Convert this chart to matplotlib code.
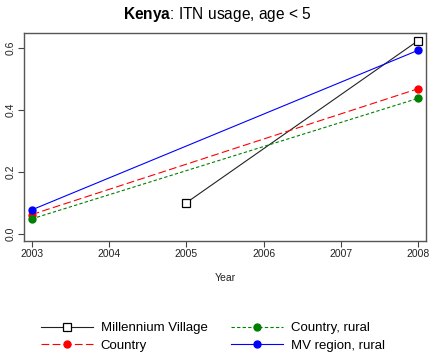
import matplotlib.pyplot as plt
import numpy as np

plt.rcParams['font.family'] = ['Liberation Sans', 'DejaVu Sans']
plt.rcParams['mathtext.fontset'] = 'custom'
plt.rcParams['mathtext.bf'] = 'Liberation Sans:bold'
plt.rcParams['mathtext.rm'] = 'Liberation Sans'

# data
mv_years = [2005, 2008]
mv_vals = [0.10, 0.623]
country_years = [2003, 2008]
country_vals = [0.062, 0.468]
rural_years = [2003, 2008]
rural_vals = [0.048, 0.437]
mvregion_years = [2003, 2008]
mvregion_vals = [0.077, 0.592]

xticks = [2003, 2004, 2005, 2006, 2007, 2008]
yticks = [0.0, 0.2, 0.4, 0.6]
ytick_labels = ['0.0', '0.2', '0.4', '0.6']

fig = plt.figure(figsize=(4.35, 3.57), dpi=100)
ax = fig.add_axes([0.055, 0.326, 0.924, 0.581])

l1, = ax.plot(mv_years, mv_vals, color='#222222', lw=0.8, marker='s', ms=5.5,
              mfc='white', mec='black', mew=0.9, label='Millennium Village')
l2, = ax.plot(country_years, country_vals, color='red', lw=0.8,
              dashes=(7, 3), marker='o', ms=5, label='Country')
l3, = ax.plot(rural_years, rural_vals, color='green', lw=0.8,
              dashes=(3, 2), marker='o', ms=5, label='Country, rural')
l4, = ax.plot(mvregion_years, mvregion_vals, color='blue', lw=0.8,
              marker='o', ms=5, label='MV region, rural')

ax.set_xlim(2002.9, 2008.1)
ax.set_ylim(-0.022, 0.647)
ax.set_xticks(xticks)
ax.set_yticks(yticks)
ax.set_yticklabels(ytick_labels, rotation=90, va='center')

for s in ax.spines.values():
    s.set_color('#555555')
    s.set_linewidth(1.0)
ax.tick_params(axis='both', length=4, width=0.8, color='#444444',
               labelsize=7.5, labelcolor='#222222', pad=2)

ax.set_xlabel('Year', fontsize=7.5, color='#222222', labelpad=10)

fig.text(0.5, 0.96, r'$\bf{Kenya}$: ITN usage, age < 5', ha='center',
         va='center', fontsize=11.2)

fig.legend(handles=[l1, l2, l3, l4], ncol=2, loc='center',
           bbox_to_anchor=(0.49, 0.056), frameon=False, fontsize=9.5,
           handlelength=3.9, handletextpad=0.6, columnspacing=1.8,
           labelspacing=0.4)

fig.savefig('out.png', dpi=100)
